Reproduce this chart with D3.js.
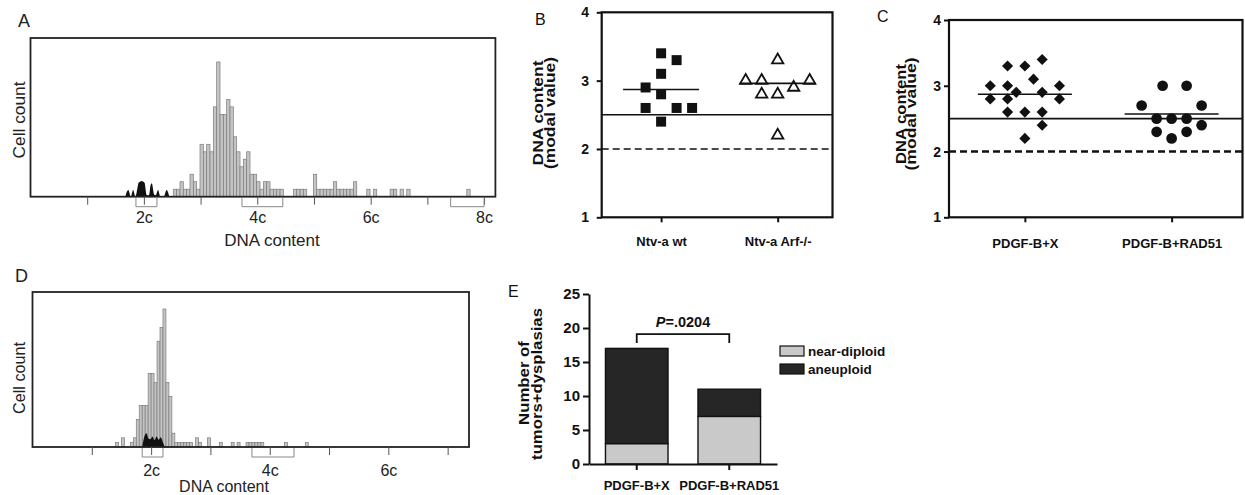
<!DOCTYPE html>
<html>
<head>
<meta charset="utf-8">
<script src="https://cdn.jsdelivr.net/npm/d3@7"></script>
<style>
body { margin: 0; background: #fff; }
svg { display: block; font-family: "Liberation Sans", Arial, Helvetica, sans-serif; }
</style>
</head>
<body>
<div id="fig"></div>
<script>
// ---- data ----
// A: histogram, bins of 1/17 DNA-content units starting at 2.519
var histAStart = 2.519, histAWidth = 1 / 17;
var histACounts = [1,1,2,1,1,3,2,1,7,6, 7,6,12,18,11,11,13,12,8,6, 4,5,6,3,3,2,1,2,2,1,
                   1,1,1,0,0,0,1,1,1,1, 0,0,3,1,1,1,1,1,2,1, 1,1,1,1,2,0,0,0,1,0,
                   1,0,0,0,0,1,1,0,1,0, 1,0,0,0,0,0,0,0,0,0, 0,0,0,0,0,0,0,0,1];
// normal (diploid) reference cells, [DNA content, count]
var refA = [[1.67,0],[1.725,0.9],[1.77,0],[1.81,0.9],[1.85,0],[1.87,0.5],[1.91,1.9],[1.96,2.1],[2.01,1.9],
            [2.05,0.2],[2.09,0.2],[2.12,1.6],[2.14,1.8],[2.18,0.3],[2.21,0.2],[2.25,0.9],[2.29,0],
            [2.35,0],[2.40,0.9],[2.45,0]];
var gatesA = [[1.86,2.23],[3.73,4.45],[7.41,8.0]];
var ticksA = [1,2,3,4,5,6,7,8];
var labelsA = [2,4,6,8];

// D: histogram, bins of 0.05 starting at 1.4
var histDStart = 1.4, histDWidth = 0.05;
var histDCounts = [1,0,2,0,0,1,2,6,9,9, 9,16,16,14,23,26,30,14,11,3, 1,1,1,1,1,1,0,2,1,0,
                   0,2,0,0,0,1,0,0,0,1, 0,1,0,0,1,1,1,1,1,1, 0,0,0,0,0,0,0,1,0,0,
                   0,0,0,0,1];
var refD = [[1.85,0],[1.88,2],[1.92,3],[1.96,1.8],[1.99,1.7],[2.02,2.3],[2.06,1.5],[2.09,2.3],
            [2.13,1.6],[2.16,2.1],[2.20,1],[2.23,0]];
var gatesD = [[1.85,2.2],[3.70,4.41]];
var ticksD = [1,2,3,4,5,6,7];
var labelsD = [2,4,6];

// B: modal DNA content
var catsB = ["Ntv-a wt", "Ntv-a Arf-/-"];
var wtVals = [3.4, 3.3, 3.1, 2.9, 2.8, 2.6, 2.6, 2.6, 2.4];
var wtCols = [0, 1, 0, -1, 0, -1, 1, 2, 0];
var arfVals = [3.3, 3.0, 3.0, 3.0, 2.9, 2.8, 2.8, 2.2];
var arfCols = [0, -2, -1, 2, 1, -1, 0, 0];
var meansB = [2.87, 2.96];

// C
var catsC = ["PDGF-B+X", "PDGF-B+RAD51"];
var xVals = [3.4, 3.3, 3.3, 3.1, 3.0, 3.0, 3.0, 2.9, 2.9, 2.8, 2.8, 2.8, 2.6, 2.6, 2.6, 2.4, 2.2];
var xCols = [1, -1, 0, 0.5, -2, -1, 2, -0.5, 1, -2, -1, 2, -1, 0, 1, 1, 0];
var radVals = [3.0, 3.0, 2.7, 2.7, 2.5, 2.5, 2.5, 2.4, 2.3, 2.3, 2.2];
var radCols = [-0.6, 1, -2, 2, -1, 0, 1, 2, -1, 1, 0];
var meansC = [2.87, 2.57];

var yTicksBC = [1, 2, 3, 4];
var refLines = [2.5, 2.0];

// E
var catsE = ["PDGF-B+X", "PDGF-B+RAD51"];
var nearDiploid = [3, 7];
var aneuploid = [14, 4];
var yTicksE = [0, 5, 10, 15, 20, 25];
var pText = "=.0204";

// ---- drawing ----
var svg = d3.select("#fig").append("svg")
    .attr("width", 1245)
    .attr("height", 495);
svg.append("rect").attr("width", 1245).attr("height", 495).attr("fill", "#fff");

// rotated label, stretched along its length to match the figure
function vLabel(g, text, cx, cy, len, size, bold) {
  var t = g.append("text")
      .attr("text-anchor", "middle").attr("font-size", size)
      .attr("font-weight", bold ? "bold" : "normal").attr("fill", "#111")
      .text(text);
  var natural = t.node().getComputedTextLength();
  var s = natural > 0 ? len / natural : 1;
  t.attr("transform", "translate(" + cx + "," + cy + ") rotate(-90) scale(" + s + ",1)");
  return t;
}

function histPanel(x, y, start, w, counts, ref, gates, ticks, labels, letter, lx, ly, ccx, ccy, ccLen, tickLabY, titleX, titleY, titleSize) {
  var g = svg.append("g");
  var x0 = x.range()[0], x1 = x.range()[1];
  var yb = y(0), yt = y.domain()[1];

  var bars = counts.map(function(c, i) { return {x0: start + i * w, x1: start + (i + 1) * w, c: c}; })
      .filter(function(d) { return d.c > 0; });
  g.selectAll("rect.bar").data(bars).enter().append("rect")
      .attr("class", "bar")
      .attr("x", function(d) { return x(d.x0); })
      .attr("width", function(d) { return x(d.x1) - x(d.x0); })
      .attr("y", function(d) { return y(d.c); })
      .attr("height", function(d) { return yb - y(d.c); })
      .attr("fill", "#c4c4c4")
      .attr("stroke", "#7c7c7c")
      .attr("stroke-width", 0.7);

  var area = d3.area()
      .x(function(d) { return x(d[0]); })
      .y0(yb)
      .y1(function(d) { return y(d[1]); })
      .curve(d3.curveMonotoneX);
  g.append("path").datum(ref).attr("d", area).attr("fill", "#111");

  // frame
  g.append("rect")
      .attr("x", x0).attr("y", y(yt))
      .attr("width", x1 - x0).attr("height", yb - y(yt))
      .attr("fill", "none").attr("stroke", "#222").attr("stroke-width", 1.8);

  // ticks
  var ax = g.append("g").attr("transform", "translate(0," + yb + ")")
      .call(d3.axisBottom(x).tickValues(ticks).tickSize(8).tickFormat(""));
  ax.select(".domain").remove();
  ax.selectAll("line").attr("stroke", "#555").attr("stroke-width", 1);

  // gates
  g.selectAll("path.gate").data(gates).enter().append("path")
      .attr("class", "gate")
      .attr("d", function(d) {
        return "M" + x(d[0]) + "," + (yb + 1) + "V" + (yb + 10) + "H" + x(d[1]) + "V" + (yb + 1);
      })
      .attr("fill", "none").attr("stroke", "#888").attr("stroke-width", 1);

  // tick labels
  var lab = g.append("g").attr("transform", "translate(0," + tickLabY + ")")
      .call(d3.axisBottom(x).tickValues(labels).tickSize(0).tickPadding(0)
            .tickFormat(function(d) { return d + "c"; }));
  lab.select(".domain").remove();
  lab.selectAll("text").attr("dy", null).attr("font-size", 16)
      .attr("font-family", '"Liberation Sans", Arial, sans-serif').attr("fill", "#222");

  g.append("text").attr("x", titleX).attr("y", titleY).attr("text-anchor", "middle")
      .attr("font-size", titleSize).attr("fill", "#222").text("DNA content");
  vLabel(g, "Cell count", ccx, ccy, ccLen, 16, false).attr("fill", "#222");
  g.append("text").attr("x", lx).attr("y", ly).attr("font-size", 18).attr("fill", "#222").text(letter);
}

var xA = d3.scaleLinear().domain([0, 8.2]).range([30.5, 495.4]);
var yA = d3.scaleLinear().domain([0, 21.2]).range([196.7, 38]);
histPanel(xA, yA, histAStart, histAWidth, histACounts, refA, gatesA, ticksA, labelsA,
          "A", 18, 27, 24.5, 120, 77, 223, 272, 246, 17);

var xD = d3.scaleLinear().domain([0, 7.36]).range([32.5, 469]);
var yD = d3.scaleLinear().domain([0, 33.7]).range([447, 292]);
histPanel(xD, yD, histDStart, histDWidth, histDCounts, refD, gatesD, ticksD, labelsD,
          "D", 15, 282, 25, 378, 72, 476, 224, 492, 16);

// dot plots
function dotPanel(x0, x1, yTop, cats, pad, align, groups, means, halfW, letter, lx, ly, labX, labY, tickRight, catY, dashW) {
  var g = svg.append("g");
  var y = d3.scaleLinear().domain([1, 4]).range([217.3, yTop]);
  var x = d3.scalePoint().domain(cats).range([x0, x1]).padding(pad).align(align);

  g.append("rect").attr("x", x0).attr("y", y(4)).attr("width", x1 - x0).attr("height", y(1) - y(4))
      .attr("fill", "none").attr("stroke", "#111").attr("stroke-width", 2.2);

  // reference lines
  g.append("line").attr("x1", x0).attr("x2", x1).attr("y1", y(refLines[0])).attr("y2", y(refLines[0]))
      .attr("stroke", "#111").attr("stroke-width", 1.6);
  g.append("line").attr("x1", x0).attr("x2", x1).attr("y1", y(refLines[1])).attr("y2", y(refLines[1]))
      .attr("stroke", "#111").attr("stroke-width", dashW).attr("stroke-dasharray", "7,4");

  var ya = g.append("g").attr("transform", "translate(" + x0 + ",0)")
      .call(d3.axisLeft(y).tickValues(yTicksBC).tickSize(5).tickPadding(x0 - tickRight - 5).tickFormat(d3.format("d")));
  ya.select(".domain").remove();
  ya.selectAll("line").attr("stroke", "#111").attr("stroke-width", 2);
  ya.selectAll("text").attr("font-size", 14).attr("font-weight", "bold").attr("fill", "#111")
      .attr("font-family", '"Liberation Sans", Arial, sans-serif');

  var xa = g.append("g").attr("transform", "translate(0," + y(1) + ")")
      .call(d3.axisBottom(x).tickSize(5).tickPadding(catY - y(1) - 5 - 9.2));
  xa.select(".domain").remove();
  xa.selectAll("line").attr("stroke", "#111").attr("stroke-width", 2);
  xa.selectAll("text").attr("font-size", 13).attr("font-weight", "bold").attr("fill", "#111")
      .attr("font-family", '"Liberation Sans", Arial, sans-serif');

  groups.forEach(function(grp, gi) {
    var pts = grp.vals.map(function(v, i) { return {v: v, c: grp.cols[i]}; });
    g.selectAll("path.s" + gi).data(pts).enter().append("path")
        .attr("class", "s" + gi)
        .attr("d", d3.symbol().type(grp.type).size(grp.size))
        .attr("transform", function(d) {
          return "translate(" + (x(cats[gi]) + d.c * grp.step) + "," + y(d.v) + ")" + (grp.rot ? " rotate(45)" : "");
        })
        .attr("fill", grp.fill)
        .attr("stroke", grp.stroke)
        .attr("stroke-width", grp.sw);
  });

  g.selectAll("line.mean").data(means).enter().append("line")
      .attr("class", "mean")
      .attr("x1", function(d, i) { return x(cats[i]) - halfW; })
      .attr("x2", function(d, i) { return x(cats[i]) + halfW; })
      .attr("y1", function(d) { return y(d); })
      .attr("y2", function(d) { return y(d); })
      .attr("stroke", "#111").attr("stroke-width", 1.6);

  // titles
  vLabel(g, "DNA content", labX[0], labY, labX[2], 14, true);
  vLabel(g, "(modal value)", labX[1], labY, labX[3], 14, true);
  g.append("text").attr("x", lx).attr("y", ly).attr("font-size", 16).attr("fill", "#111").text(letter);
}

dotPanel(601.7, 832.5, 12.3, catsB, 0.49, 0.52, [
  {vals: wtVals, cols: wtCols, type: d3.symbolSquare, size: 100, fill: "#111", stroke: "none", sw: 0, step: 15.5},
  {vals: arfVals, cols: arfCols, type: d3.symbolTriangle, size: 56, fill: "#fff", stroke: "#111", sw: 1.8, step: 16}
], meansB, 38, "B", 535, 25, [543, 555, 105, 112], 113, 589, 246, 1.6);

dotPanel(949, 1242.5, 20, catsC, 0.5, 0.517, [
  {vals: xVals, cols: xCols, type: d3.symbolSquare, size: 62, fill: "#111", stroke: "none", sw: 0, step: 17.3, rot: true},
  {vals: radVals, cols: radCols, type: d3.symbolCircle, size: 90, fill: "#111", stroke: "none", sw: 0, step: 15}
], meansC, 47, "C", 877, 22, [906, 916, 100, 113], 114, 941, 248, 2.4);

// E: stacked bars
(function() {
  var g = svg.append("g");
  var x = d3.scaleBand().domain(catsE).range([589, 777]).paddingInner(0.324).paddingOuter(0.178);
  var y = d3.scaleLinear().domain([0, 25]).range([464, 294]);
  var rows = catsE.map(function(c, i) { return {cat: c, near: nearDiploid[i], aneu: aneuploid[i]}; });
  var series = d3.stack().keys(["near", "aneu"])(rows);
  var colors = {near: "#c9c9c9", aneu: "#262626"};

  series.forEach(function(s) {
    g.selectAll("rect." + s.key).data(s).enter().append("rect")
        .attr("class", s.key)
        .attr("x", function(d) { return x(d.data.cat); })
        .attr("width", x.bandwidth())
        .attr("y", function(d) { return y(d[1]); })
        .attr("height", function(d) { return y(d[0]) - y(d[1]); })
        .attr("fill", colors[s.key])
        .attr("stroke", "#111").attr("stroke-width", 1.4);
  });

  var ya = g.append("g").attr("transform", "translate(589,0)")
      .call(d3.axisLeft(y).tickValues(yTicksE).tickSize(6).tickSizeOuter(0).tickPadding(3));
  ya.select(".domain").attr("stroke", "#111").attr("stroke-width", 2);
  ya.selectAll("line").attr("stroke", "#111").attr("stroke-width", 2);
  ya.selectAll("text").attr("font-size", 15).attr("font-weight", "bold").attr("fill", "#111")
      .attr("font-family", '"Liberation Sans", Arial, sans-serif');

  var xa = g.append("g").attr("transform", "translate(0,464)")
      .call(d3.axisBottom(x).tickSize(6).tickSizeOuter(0).tickPadding(10.5));
  xa.select(".domain").attr("stroke", "#111").attr("stroke-width", 2);
  xa.selectAll("line").attr("stroke", "#111").attr("stroke-width", 2);
  xa.selectAll("text").attr("font-size", 13).attr("font-weight", "bold").attr("fill", "#111")
      .attr("font-family", '"Liberation Sans", Arial, sans-serif');

  // significance bracket
  var bx0 = x(catsE[0]) + x.bandwidth() / 2, bx1 = x(catsE[1]) + x.bandwidth() / 2;
  g.append("path")
      .attr("d", "M" + bx0 + "," + y(17.8) + "V" + y(19.1) + "H" + bx1 + "V" + y(17.8))
      .attr("fill", "none").attr("stroke", "#111").attr("stroke-width", 1.8);
  var pt = g.append("text").attr("x", (bx0 + bx1) / 2).attr("y", 327).attr("text-anchor", "middle")
      .attr("font-size", 14.5).attr("font-weight", "bold").attr("fill", "#111");
  pt.append("tspan").attr("font-style", "italic").text("P");
  pt.append("tspan").text(pText);

  // legend
  var leg = g.selectAll("g.leg").data([["near-diploid", "near"], ["aneuploid", "aneu"]]).enter().append("g")
      .attr("class", "leg")
      .attr("transform", function(d, i) { return "translate(780," + (346 + i * 18) + ")"; });
  leg.append("rect").attr("width", 24).attr("height", 10)
      .attr("fill", function(d) { return colors[d[1]]; }).attr("stroke", "#111").attr("stroke-width", 1.2);
  leg.append("text").attr("x", 28).attr("y", 10).attr("font-size", 13.5).attr("font-weight", "bold")
      .attr("fill", "#111").text(function(d) { return d[0]; });

  vLabel(g, "Number of", 529, 383, 84, 15, true);
  vLabel(g, "tumors+dysplasias", 542, 384, 152, 15, true);
  g.append("text").attr("x", 508).attr("y", 297).attr("font-size", 16).attr("fill", "#111").text("E");
})();
</script>
</body>
</html>
